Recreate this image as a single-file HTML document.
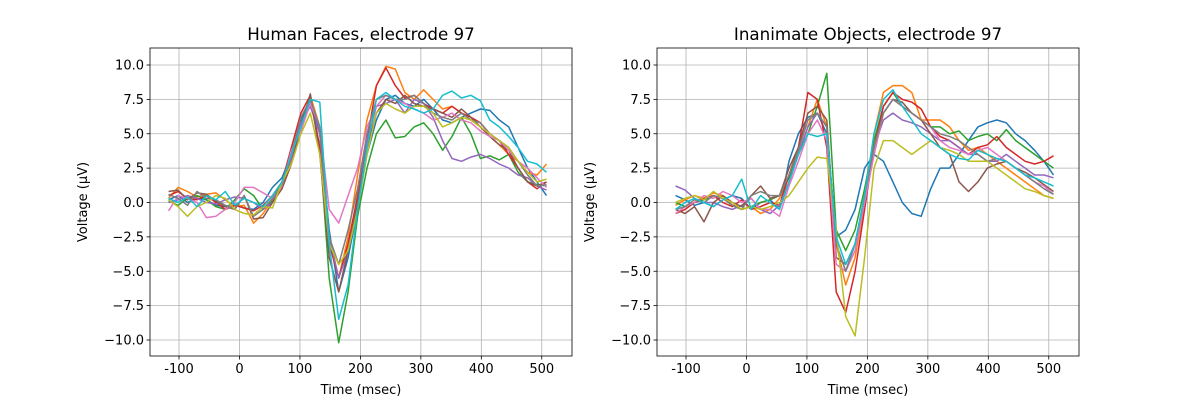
<!DOCTYPE html>
<html><head><meta charset="utf-8"><style>
body{margin:0;background:#fff}
svg text{font-family:"DejaVu Sans","Liberation Sans",sans-serif;fill:#000}
</style></head><body>
<svg id="fig" width="1200" height="400" xmlns="http://www.w3.org/2000/svg"></svg>
<script>
const times=[];for(let i=0;i<41;i++)times.push(-117.2+15.625*i);
const xTicks=[-100,0,100,200,300,400,500];
const yTicks=[-10,-7.5,-5,-2.5,0,2.5,5,7.5,10];
const colors=["#1f77b4","#ff7f0e","#2ca02c","#d62728","#9467bd","#8c564b","#e377c2","#7f7f7f","#bcbd22","#17becf"];
const facesBlue=[0.2,0.5,0,0.3,0.2,-0.2,-0.3,-0.1,-0.4,-0.5,0,1.1,1.8,3.5,6,7.6,5,-2,-6.5,-4,-0.5,3.5,6,7.5,7.8,7.2,7,7.5,6.8,6,5.8,6.2,6.5,6.8,6.7,6,5.5,4,2.5,1.5,0.5];
const facesOrange=[0.3,1.1,0.8,0.4,0.6,0.7,0.2,-0.3,-0.2,-1.5,-0.8,0.2,1.2,3,5.5,7.8,5.5,-2.5,-5.5,-2.5,2,6,8.5,9.9,9.7,8,7.5,8.2,7.5,6.8,7,6.5,6,5.5,4.8,4.2,3.5,3,2.2,2,2.8];
const facesGreen=[0.1,-0.2,0.3,0.5,0.2,-0.3,-0.5,0.2,1,0.5,-0.5,0.1,1.5,3.2,5.5,7.5,4,-5.5,-10.2,-6.5,-1,2.5,5,6,4.7,4.8,5.5,5.8,5,3.8,4.8,6.2,5,3.2,3.4,3.1,3.5,2.2,1.5,1.3,1.2];
const facesRed=[0.5,0.8,0.3,0.2,0.5,0,-0.5,-0.2,-0.4,-0.6,-0.2,0.5,1.5,4,6.5,7.8,4,-3,-5.5,-3,0.5,4.5,8.5,9.8,8.5,7.6,7.8,7.2,6.8,6.5,7,6.5,6.2,5.8,5,4.5,3.5,2.5,1.5,1,1.5];
const facesPurple=[0,0.2,0.5,0.3,0,-0.1,0.2,0.4,0.3,0,-0.5,0,1.5,3.2,5.8,7,5,-2.5,-5.5,-3.5,0,4.5,7,7.2,7.5,6.5,7.5,7.2,6.2,4.5,3.2,3,3.3,3.5,3.2,2.8,2.5,2,1.8,1.2,0.9];
const facesBrown=[0.8,0.9,0.2,0.7,0.6,0.1,-0.3,-0.5,0.5,-1.2,-1.1,0,1,2.8,5.5,7.9,3.5,-4,-6.5,-3.5,0,4,6.5,7.5,7.2,7.8,7.2,7,6.8,6.5,6.2,6.8,6.2,5.5,4.8,4.2,3.8,2.5,1.5,1.2,1.5];
const facesPink=[-0.6,0.5,0.3,0,-1.1,-1,-0.5,0,1.1,1.1,0.7,0.3,1.2,3.8,5.2,7.2,5.5,-0.5,-1.5,0.5,2.5,5.5,7,7.8,7.5,7.2,6.8,6.5,6,6.2,6.5,6,5.8,5.2,4.8,4.5,3.8,3,2.5,1.8,1.1];
const facesGray=[0.6,0.3,-0.2,0.8,0.3,0.2,-0.2,-0.5,0.5,-1,-0.5,0.3,1.3,3.5,6.2,7.5,5.5,-2.5,-4.5,-2,1,5,7.5,7.8,7.5,7.5,7.8,7.2,6.5,6.2,6,6.5,6,5.8,5,4.5,4,3,2,1.2,1.3];
const facesOlive=[0.2,-0.3,-1,-0.3,0,0.5,0.3,-0.5,-0.8,-0.9,-0.3,-0.4,1.5,2.8,5,6.5,3.5,-3,-4.5,-3.5,-0.5,3.5,6.5,7.2,6.8,6.5,7,7,6.5,5.5,5.8,6.2,6,5.5,5,4.5,4,3,2.2,1.5,1.7];
const facesCyan=[0.3,0,0.4,-0.3,0.5,0.2,0.8,-0.2,0.3,0,-0.3,0.5,1.5,3.5,5.5,7.5,7.3,-3,-8.5,-6,-0.5,4,7.5,8,7.5,7,6.8,6.5,6.8,7.8,8.1,7.6,7.8,7.4,6,5.5,4.8,4,3,2.8,2.2];
const objBlue=[0.5,0.2,-0.2,0,-0.3,0.2,0.5,0.3,-0.5,0,0.2,-0.5,3,5,6.2,6.5,5,-2.5,-2,-0.5,2.5,3.5,3,1.5,0,-0.8,-1,1,2.5,2.5,3.5,4.5,5.5,5.8,6,5.8,5,4.5,3.8,3,2];
const objOrange=[-0.2,0.2,0.5,0.3,0.7,0.5,-0.2,-0.5,-0.3,-0.8,-0.5,0.3,2,3.5,5.5,7.5,5.5,-3,-6,-4,0,5,8,8.5,8.5,8,6,6,6,5.5,4.5,3.8,4,3.5,3,2.5,2,1.5,1,0.5,0.3];
const objGreen=[0,-0.3,0,0.2,0.5,0.3,-0.2,-0.5,-0.3,0,0.2,0.5,1.8,3.5,5,7,9.4,-2,-3.5,-2,1,4.5,7,8,7,6.5,6,5.5,5.5,5,5.2,4.5,4.8,5,4.5,5.3,4.5,4,3.5,3,2.5];
const objRed=[-0.8,-0.5,0,0.3,0.5,0,-0.3,0.2,-0.5,-0.3,0,-0.2,2,4,8,7.5,4,-6.5,-8,-5,-0.5,4,7,8,7.5,7.3,6.8,5.5,4.8,4.5,4,3.5,4,4.2,4.8,4,3.5,3,2.8,3,3.4];
const objPurple=[1.2,0.9,0.3,0,0,-0.3,-0.5,-0.2,0.3,-0.5,-0.8,-0.2,1.5,3.5,5.5,6.5,5.5,-3,-5,-3,0.5,4,6,6.5,6,5.8,5.5,5,4.5,4.5,4,3.5,3.5,3,3,3.5,3,2.5,2,2,1.8];
const objBrown=[-0.5,-0.8,-0.3,-1.4,0,0.5,0,-0.3,0.5,1.2,0.3,0.5,2.5,4,6.5,7,6,-4,-4.5,-3,0,3.5,6.5,7.5,7.3,6.5,6,5,4,3.5,1.5,0.8,1.5,2.5,2.8,3,2.5,2.2,1.8,1.3,0.8];
const objPink=[-0.8,-0.3,0,0.5,0.3,0.8,0.5,0,0.3,-0.5,-0.5,-1,1.2,3,5,6,4.5,-4.5,-5,-3.5,0,3.5,6.5,7.5,7,6.5,6,5.5,4.5,4,3.8,3.5,3.8,4,3.5,3,2.5,2,1.5,1.2,0.6];
const objGray=[-0.5,-0.3,0.2,0,0.5,0.3,-0.2,-0.5,0.5,0.8,0.5,0.5,2,3.8,6,6.5,5.5,-3,-5,-3,0.5,4,6.5,7.5,7,6.5,6,5.5,5,4.8,4.5,4,3.5,3,3.2,3,2.5,2,1.5,1,0.6];
const objOlive=[0,0.3,0.5,0.2,0.8,0.3,0,-0.5,-0.3,-0.5,-0.3,0,0.5,1.5,2.5,3.3,3.2,-2,-8.3,-9.7,-4,2.5,4.5,4.5,4,3.5,4,4.5,4,3.8,3.5,3,3,3,2.5,2,1.5,1,0.8,0.5,0.3];
const objCyan=[-0.5,0,0.3,0,-0.3,0.2,0.5,1.7,-0.5,0.5,0,-0.5,1.5,3.5,5,4.8,5,-2.5,-4.5,-3,0.5,5,7.5,8.2,7,6,5,4.5,4,3.5,3.2,3.1,3.8,3.5,3.2,3,2.5,2,1.8,1.5,1.2];
const faces=[facesBlue,facesOrange,facesGreen,facesRed,facesPurple,facesBrown,facesPink,facesGray,facesOlive,facesCyan];
const objs=[objBlue,objOrange,objGreen,objRed,objPurple,objBrown,objPink,objGray,objOlive,objCyan];
const NS="http://www.w3.org/2000/svg";
const fig=document.getElementById('fig');
function mk(tag,attrs,parent){const e=document.createElementNS(NS,tag);for(const k in attrs)e.setAttribute(k,attrs[k]);parent.appendChild(e);return e;}
function panel(x0,title,series,key){
  const x1=x0+422,y0=48,y1=356;
  const sx=t=>x0+(t+148)/698*422;
  const sy=v=>202.5-v*13.75;
  const g=mk('g',{},fig);
  
  
  xTicks.forEach(t=>{const X=sx(t);
    const l=mk('line',{x1:X,x2:X,y1:y0,y2:y1,stroke:'#b0b0b0','stroke-width':0.8},g);
    
    mk('line',{x1:X,x2:X,y1:y1,y2:y1+3.5,stroke:'#000','stroke-width':0.8},g);
    const tx=mk('text',{x:X,y:y1+17,'text-anchor':'middle','font-size':13},g);tx.textContent=t;
    });
  yTicks.forEach(v=>{const Y=sy(v);
    const l=mk('line',{x1:x0,x2:x1,y1:Y,y2:Y,stroke:'#b0b0b0','stroke-width':0.8},g);
    
    mk('line',{x1:x0-3.5,x2:x0,y1:Y,y2:Y,stroke:'#000','stroke-width':0.8},g);
    const tx=mk('text',{x:x0-6,y:Y+4.5,'text-anchor':'end','font-size':13},g);tx.textContent=(v<0?'\u2212':'')+Math.abs(v).toFixed(1);
    });
  series.forEach((s,i)=>{
    const d=s.map((v,j)=>(j?'L':'M')+sx(times[j]).toFixed(1)+','+sy(v).toFixed(1)).join('');
    const p=mk('path',{d:d,fill:'none',stroke:colors[i],'stroke-width':1.5,'stroke-linejoin':'round'},g);
    
    
  });
  const fr=mk('rect',{x:x0,y:y0,width:422,height:308,fill:'none',stroke:'#000','stroke-width':0.8},g);
  
  const tt=mk('text',{x:x0+211,y:40,'text-anchor':'middle','font-size':16.7},g);tt.textContent=title;
  
  const xl=mk('text',{x:x0+211,y:394,'text-anchor':'middle','font-size':13},g);xl.textContent='Time (msec)';
  
  const yl=mk('text',{x:0,y:0,'text-anchor':'middle','font-size':13,transform:'translate('+(x0-63)+','+(y0+154)+') rotate(-90)'},g);yl.textContent='Voltage (\u03bcV)';
  
}
panel(150,'Human Faces, electrode 97',faces,'faces');
panel(657,'Inanimate Objects, electrode 97',objs,'objects');
</script>
</body></html>
